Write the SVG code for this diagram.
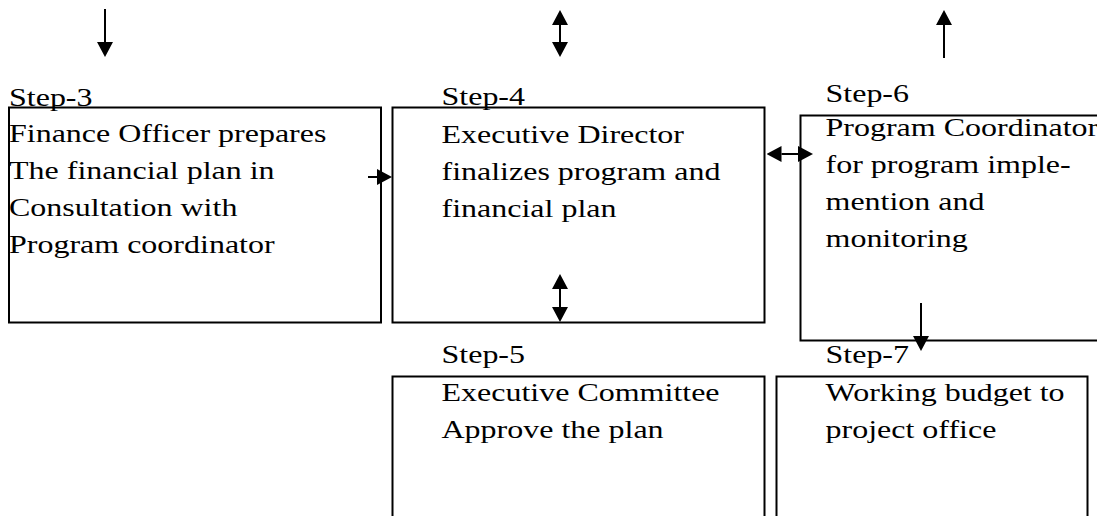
<svg xmlns="http://www.w3.org/2000/svg" width="1097" height="516" viewBox="0 0 1097 516">
<style>
.box{fill:none;stroke:#000;stroke-width:2}
.t{font-family:"Liberation Serif","Times New Roman",serif;font-size:32px;fill:#000}
.c{stroke:#000;stroke-width:2;fill:none}
</style>
<defs>
<marker id="ah" markerUnits="userSpaceOnUse" markerWidth="15" markerHeight="16" viewBox="0 -8 15 16" refX="0" refY="0" orient="auto-start-reverse">
<path d="M0,-8 L15,0 L0,8 z" fill="#000"/>
</marker>
</defs>
<rect width="1097" height="516" fill="#fff"/>
<g id="step3">
<rect class="box" x="9" y="107.5" width="372" height="215"/>
<text class="t" transform="matrix(1 0 0 0.8 9 106)">Step-3</text>
<text class="t" transform="matrix(1 0 0 0.8 9 141.7)"><tspan x="0" y="0">Finance Officer prepares</tspan><tspan x="0" dy="46.25">The financial plan in</tspan><tspan x="0" dy="46.25">Consultation with</tspan><tspan x="0" dy="46.25">Program coordinator</tspan></text>
</g>
<g id="step4">
<rect class="box" x="392.5" y="107.5" width="372" height="215"/>
<text class="t" transform="matrix(1 0 0 0.8 441.5 105)">Step-4</text>
<text class="t" transform="matrix(1 0 0 0.8 441.5 142.7)"><tspan x="0" y="0">Executive Director</tspan><tspan x="0" dy="46.25">finalizes program and</tspan><tspan x="0" dy="46.25">financial plan</tspan></text>
</g>
<g id="step6">
<rect class="box" x="800.5" y="115.5" width="320" height="225"/>
<text class="t" transform="matrix(1 0 0 0.8 825.5 102)">Step-6</text>
<text class="t" transform="matrix(1 0 0 0.8 825.5 135.7)"><tspan x="0" y="0">Program Coordinator</tspan><tspan x="0" dy="46.25">for program imple-</tspan><tspan x="0" dy="46.25">mention and</tspan><tspan x="0" dy="46.25">monitoring</tspan></text>
</g>
<g id="step5">
<rect class="box" x="392.5" y="376.5" width="372" height="160"/>
<text class="t" transform="matrix(1 0 0 0.8 441.5 363.3)">Step-5</text>
<text class="t" transform="matrix(1 0 0 0.8 441.5 400.7)"><tspan x="0" y="0">Executive Committee</tspan><tspan x="0" dy="46.25">Approve the plan</tspan></text>
</g>
<g id="step7">
<rect class="box" x="776.5" y="376.5" width="311" height="160"/>
<text class="t" transform="matrix(1 0 0 0.8 825.5 362.7)">Step-7</text>
<text class="t" transform="matrix(1 0 0 0.8 825.5 400.7)"><tspan x="0" y="0">Working budget to</tspan><tspan x="0" dy="46.25">project office</tspan></text>
</g>
<g id="connectors">
<line class="c" x1="105" y1="9" x2="105" y2="42" marker-end="url(#ah)"/>
<line class="c" x1="560" y1="25" x2="560" y2="42" marker-start="url(#ah)" marker-end="url(#ah)"/>
<line class="c" x1="944" y1="58" x2="944" y2="25" marker-end="url(#ah)"/>
<line class="c" x1="368" y1="177" x2="377" y2="177" marker-end="url(#ah)"/>
<line class="c" x1="781.5" y1="154" x2="798" y2="154" marker-start="url(#ah)" marker-end="url(#ah)"/>
<line class="c" x1="560" y1="289" x2="560" y2="307" marker-start="url(#ah)" marker-end="url(#ah)"/>
<line class="c" x1="921" y1="303" x2="921" y2="336" marker-end="url(#ah)"/>
</g>
</svg>
